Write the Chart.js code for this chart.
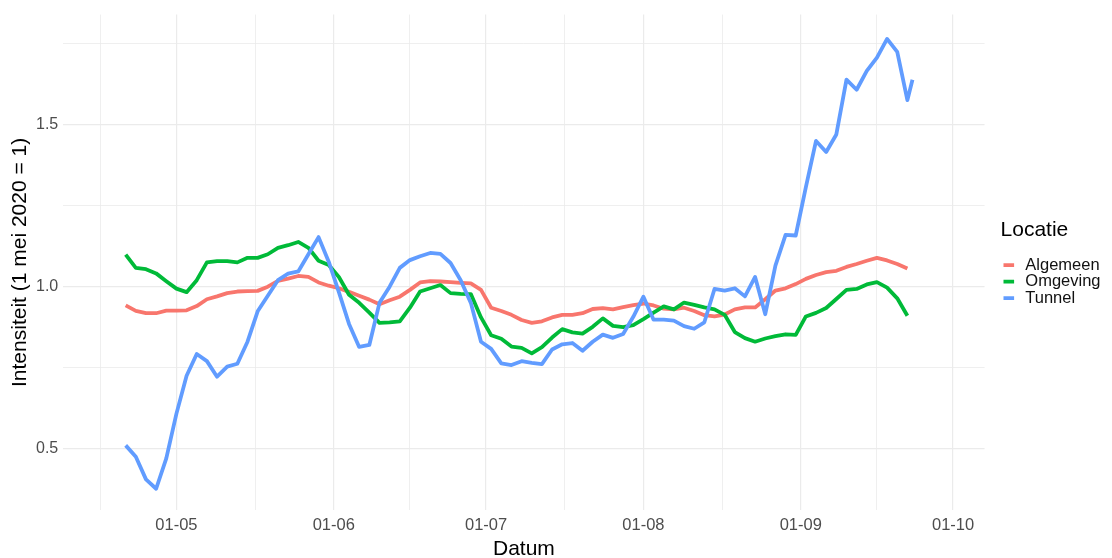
<!DOCTYPE html>
<html lang="nl">
<head>
<meta charset="UTF-8">
<title>Intensiteit per locatie</title>
<script src="https://cdn.jsdelivr.net/npm/chart.js@4.4.0/dist/chart.umd.min.js"></script>
<style>
  html, body { margin: 0; padding: 0; background: #fff; }
  #wrap { width: 1112px; height: 558px; }
</style>
</head>
<body>
<div id="wrap"><canvas id="chart" width="1112" height="558"></canvas></div>
<script>
// dagen t.o.v. 1 mei 2020 (0 = 01-05)
const days = [
  -10, -8, -6, -4, -2, 0, 2, 4, 6, 8,
  10, 12, 14, 16, 18, 20, 22, 24, 26, 28,
  30, 32, 34, 36, 38, 40, 42, 44, 46, 48,
  50, 52, 54, 56, 58, 60, 62, 64, 66, 68,
  70, 72, 74, 76, 78, 80, 82, 84, 86, 88,
  90, 92, 94, 96, 98, 100, 102, 104, 106, 108,
  110, 112, 114, 116, 118, 120, 122, 124, 126, 128,
  130, 132, 134, 136, 138, 140, 142, 144, 145
];

const algemeen = [
  0.942, 0.925, 0.918, 0.918, 0.926, 0.926, 0.927, 0.940, 0.961, 0.970,
  0.980, 0.985, 0.986, 0.987, 1.000, 1.018, 1.025, 1.033, 1.030, 1.013,
  1.003, 0.995, 0.984, 0.972, 0.960, 0.946, 0.958, 0.969, 0.990, 1.013,
  1.017, 1.016, 1.014, 1.012, 1.010, 0.990, 0.935, 0.925, 0.913, 0.897,
  0.888, 0.893, 0.905, 0.913, 0.913, 0.918, 0.931, 0.934, 0.930, 0.937,
  0.943, 0.948, 0.942, 0.932, 0.930, 0.935, 0.925, 0.912, 0.908, 0.914,
  0.930, 0.936, 0.936, 0.961, 0.988, 0.995, 1.008, 1.024, 1.036, 1.045,
  1.049, 1.061, 1.070, 1.080, 1.089, 1.081, 1.070, 1.056, null
];

const omgeving = [
  1.099, 1.058, 1.054, 1.041, 1.017, 0.994, 0.983, 1.020, 1.075, 1.079,
  1.079, 1.075, 1.089, 1.089, 1.100, 1.120, 1.128, 1.138, 1.120, 1.080,
  1.067, 1.030, 0.975, 0.950, 0.920, 0.888, 0.890, 0.893, 0.935, 0.985,
  0.995, 1.005, 0.980, 0.978, 0.977, 0.905, 0.850, 0.839, 0.815, 0.811,
  0.794, 0.813, 0.843, 0.869, 0.859, 0.855, 0.876, 0.902, 0.879, 0.875,
  0.881, 0.900, 0.920, 0.939, 0.930, 0.951, 0.944, 0.936, 0.930, 0.913,
  0.860, 0.841, 0.830, 0.840, 0.847, 0.853, 0.851, 0.908, 0.919, 0.934,
  0.962, 0.990, 0.993, 1.007, 1.014, 0.997, 0.964, 0.910, null
];

const tunnel = [
  0.510, 0.475, 0.405, 0.376, 0.470, 0.608, 0.725, 0.792, 0.770, 0.722,
  0.753, 0.762, 0.830, 0.924, 0.972, 1.020, 1.040, 1.047, 1.100, 1.153,
  1.077, 0.983, 0.885, 0.814, 0.820, 0.950, 1.000, 1.058, 1.082, 1.094,
  1.104, 1.101, 1.073, 1.020, 0.950, 0.830, 0.808, 0.763, 0.758, 0.770,
  0.765, 0.761, 0.806, 0.822, 0.826, 0.802, 0.830, 0.852, 0.842, 0.854,
  0.907, 0.969, 0.898, 0.898, 0.895, 0.878, 0.870, 0.890, 0.993, 0.988,
  0.995, 0.970, 1.030, 0.915, 1.065, 1.160, 1.158, 1.307, 1.450, 1.416,
  1.470, 1.639, 1.608, 1.666, 1.707, 1.765, 1.725, 1.576, 1.639
];

const seriesNames = ['Algemeen', 'Omgeving', 'Tunnel'];
const seriesColors = ['#F8766D', '#00BA38', '#619CFF'];

// maandgrenzen en tussenliggende (minor) rasterlijnen, in dagen
const monthTicks = [0, 31, 61, 92, 123, 153];
const monthLabels = ['01-05', '01-06', '01-07', '01-08', '01-09', '01-10'];
const minorXTicks = [-15, 15.5, 46, 76.5, 107.5, 138];

const yTicks = [0.5, 0.75, 1.0, 1.25, 1.5, 1.75];
const yLabels = ['0.5', '', '1.0', '', '1.5', ''];

const FONT = "'Liberation Sans', Arial, Helvetica, sans-serif";

const datasets = [algemeen, omgeving, tunnel].map((vals, i) => ({
  label: seriesNames[i],
  data: days.map((d, j) => ({ x: d, y: vals[j] })),
  borderColor: seriesColors[i],
  backgroundColor: seriesColors[i],
  borderWidth: 3.8,
  pointRadius: 0,
  tension: 0,
  borderJoinStyle: 'round',
  order: 2 - i   // Tunnel bovenop
}));

// legenda wat van het plotvlak af schuiven (zoals ggplot)
const legendShift = {
  id: 'legendShift',
  afterLayout(chart) {
    const lg = chart.legend;
    if (lg) { lg.left += 16; lg.right += 16; }
  }
};

new Chart(document.getElementById('chart'), {
  type: 'line',
  data: { datasets: datasets },
  plugins: [legendShift],
  options: {
    responsive: false,
    animation: false,
    layout: { padding: { top: 8, left: 10, right: 17.5, bottom: 0 } },
    plugins: {
      tooltip: { enabled: false },
      legend: {
        position: 'right',
        align: 'center',
        title: {
          display: true,
          text: 'Locatie',
          position: 'start',
          color: '#000',
          font: { family: FONT, size: 21 },
          padding: { top: -40, bottom: 12 }
        },
        labels: {
          usePointStyle: true,
          pointStyle: 'line',
          boxWidth: 16.5,
          boxHeight: 7.5,
          padding: 0,
          color: '#111',
          font: { family: FONT, size: 16.5 },
          sort: (a, b) => a.datasetIndex - b.datasetIndex
        }
      }
    },
    scales: {
      x: {
        type: 'linear',
        min: -22.3,
        max: 159.2,
        afterBuildTicks: axis => {
          axis.ticks = monthTicks.concat(minorXTicks)
            .sort((a, b) => a - b)
            .map(v => ({ value: v }));
        },
        ticks: {
          autoSkip: false,
          maxRotation: 0,
          padding: 5,
          color: '#4d4d4d',
          font: { family: FONT, size: 16.5 },
          callback: value => {
            const i = monthTicks.indexOf(value);
            return i >= 0 ? monthLabels[i] : '';
          }
        },
        grid: {
          drawTicks: false,
          color: '#ebebeb',
          lineWidth: ctx => monthTicks.includes(ctx.tick.value) ? 1.2 : 0.8
        },
        border: { display: false },
        title: {
          display: true,
          text: 'Datum',
          color: '#000',
          font: { family: FONT, size: 21, lineHeight: 0.86 },
          padding: { top: 0, bottom: 0 }
        }
      },
      y: {
        type: 'linear',
        min: 0.31,
        max: 1.84,
        afterBuildTicks: axis => {
          axis.ticks = yTicks.map(v => ({ value: v }));
        },
        ticks: {
          padding: 5,
          color: '#4d4d4d',
          font: { family: FONT, size: 16 },
          callback: value => {
            const i = yTicks.indexOf(value);
            return i >= 0 ? yLabels[i] : '';
          }
        },
        grid: {
          drawTicks: false,
          color: '#ebebeb',
          lineWidth: ctx => (ctx.tick.value * 2) % 1 === 0 ? 1.2 : 0.8
        },
        border: { display: false },
        title: {
          display: true,
          text: 'Intensiteit (1 mei 2020 = 1)',
          color: '#000',
          font: { family: FONT, size: 21, lineHeight: 1.0 },
          padding: { top: 0, bottom: 0 }
        }
      }
    }
  }
});
</script>
</body>
</html>
